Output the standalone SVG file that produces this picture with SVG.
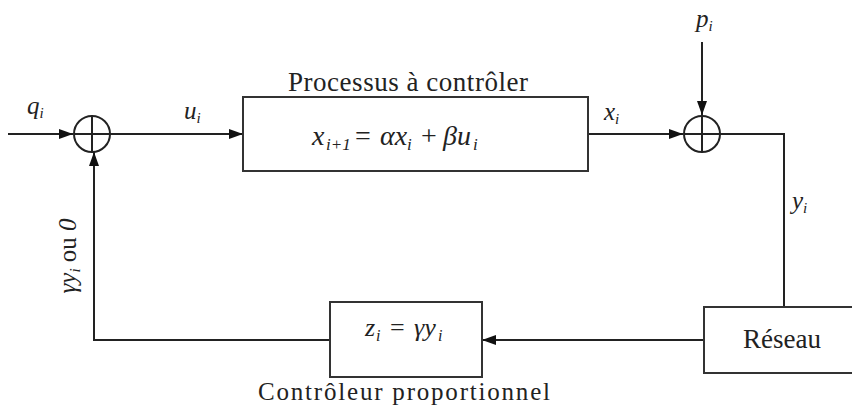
<svg xmlns="http://www.w3.org/2000/svg" width="852" height="405" viewBox="0 0 852 405">
<style>
.ln{stroke:#222;stroke-width:2;fill:none}
.bx{stroke:#333;stroke-width:2;fill:#fff}
</style>
<defs>
<marker id="ah" viewBox="0 0 14 10" refX="14" refY="5" markerWidth="14" markerHeight="10" markerUnits="userSpaceOnUse" orient="auto">
<path d="M0,0 L14,5 L0,10 Z" fill="#111"/>
</marker>
</defs>
<rect width="852" height="405" fill="#fff"/>
<g id="connectors">
<line class="ln" x1="8" y1="134" x2="73" y2="134" marker-end="url(#ah)"/>
<line class="ln" x1="110" y1="134" x2="243" y2="134" marker-end="url(#ah)"/>
<line class="ln" x1="588" y1="134" x2="683" y2="134" marker-end="url(#ah)"/>
<line class="ln" x1="702" y1="42" x2="702" y2="115" marker-end="url(#ah)"/>
<polyline class="ln" points="720,134 784,134 784,307"/>
<line class="ln" x1="704" y1="340" x2="482" y2="340" marker-end="url(#ah)"/>
<polyline class="ln" points="330,340 94,340 94,152" marker-end="url(#ah)"/>
</g>
<g id="sum1">
<circle class="ln" cx="92" cy="134" r="18"/>
<line class="ln" x1="74" y1="134" x2="110" y2="134"/>
<line class="ln" x1="92" y1="116" x2="92" y2="152"/>
</g>
<g id="sum2">
<circle class="ln" cx="702" cy="134" r="18"/>
<line class="ln" x1="684" y1="134" x2="720" y2="134"/>
<line class="ln" x1="702" y1="116" x2="702" y2="152"/>
</g>
<g id="process">
<rect class="bx" x="243" y="97" width="345" height="74"/>
<text x="288" y="91" font-family="Liberation Serif" fill="#222" font-size="27" textLength="240" lengthAdjust="spacing">Processus à contrôler</text>
<text font-family="Liberation Serif" fill="#222" font-size="28" y="145"><tspan font-style="italic" x="312">x</tspan><tspan font-style="italic" x="326" y="150" font-size="17">i+1</tspan><tspan x="355" y="145">=</tspan><tspan font-style="italic" x="380">αx</tspan><tspan font-style="italic" x="407" y="150" font-size="17">i</tspan><tspan x="421" y="145">+</tspan><tspan font-style="italic" x="443">βu</tspan><tspan font-style="italic" x="473" y="150" font-size="17">i</tspan></text>
</g>
<g id="reseau">
<rect class="bx" x="704" y="307" width="150" height="66"/>
<text x="782" y="348" font-family="Liberation Serif" fill="#222" font-size="27" text-anchor="middle">Réseau</text>
</g>
<g id="controleur">
<rect class="bx" x="330" y="302" width="152" height="75"/>
<text font-family="Liberation Serif" fill="#222" font-size="26" y="336"><tspan font-style="italic" x="365">z</tspan><tspan font-style="italic" x="376" y="341" font-size="16">i</tspan><tspan x="390" y="336">=</tspan><tspan font-style="italic" x="414">γy</tspan><tspan font-style="italic" x="438" y="341" font-size="16">i</tspan></text>
<text x="258" y="400" font-family="Liberation Serif" fill="#222" font-size="25" textLength="292" lengthAdjust="spacing">Contrôleur proportionnel</text>
</g>
<g id="labels">
<text x="27" y="114" font-family="Liberation Serif" fill="#222" font-size="25" font-style="italic">q<tspan font-size="15" dy="4">i</tspan></text>
<text x="184" y="119" font-family="Liberation Serif" fill="#222" font-size="25" font-style="italic">u<tspan font-size="15" dy="4">i</tspan></text>
<text x="604" y="120" font-family="Liberation Serif" fill="#222" font-size="25" font-style="italic">x<tspan font-size="15" dy="4">i</tspan></text>
<text x="696" y="27" font-family="Liberation Serif" fill="#222" font-size="25" font-style="italic">p<tspan font-size="15" dy="4">i</tspan></text>
<text x="792" y="209" font-family="Liberation Serif" fill="#222" font-size="25" font-style="italic">y<tspan font-size="15" dy="4">i</tspan></text>
<text transform="translate(76,256) rotate(-90)" font-family="Liberation Serif" fill="#222" font-size="25" text-anchor="middle"><tspan font-style="italic">γy</tspan><tspan font-style="italic" font-size="15" dy="4">i</tspan><tspan dy="-4"> ou </tspan><tspan font-style="italic">0</tspan></text>
</g>
</svg>
